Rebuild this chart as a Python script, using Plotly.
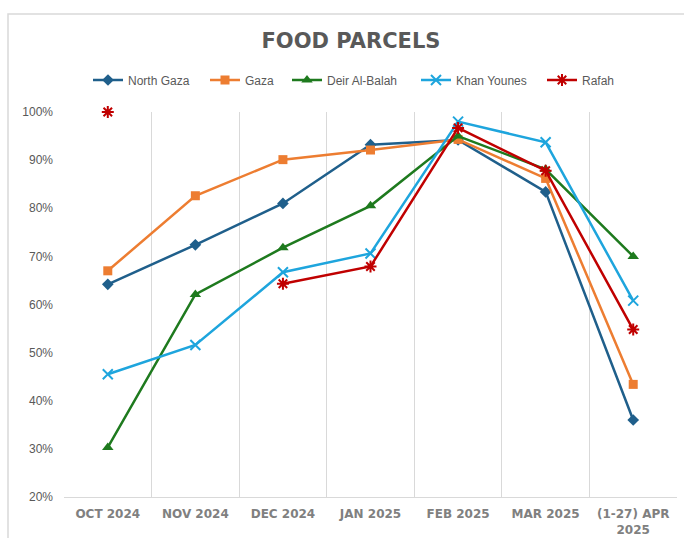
import plotly.graph_objects as go

categories = ["OCT 2024", "NOV 2024", "DEC 2024", "JAN 2025", "FEB 2025", "MAR 2025", "(1-27) APR<br>2025"]
north_gaza = [64.2, 72.4, 81.0, 93.2, 94.2, 83.4, 36.0]
gaza = [67.0, 82.6, 90.1, 92.1, 94.3, 86.2, 43.4]
deir_al_balah = [30.3, 62.1, 71.8, 80.5, 95.0, 88.1, 70.0]
khan_younes = [45.5, 51.6, 66.7, 70.6, 98.0, 93.7, 60.8]
rafah = [100.0, None, 64.3, 67.9, 96.7, 87.8, 54.8]
y_ticks = [20, 30, 40, 50, 60, 70, 80, 90, 100]

series = [
    ("North Gaza", north_gaza, "#1F5F8B", dict(symbol="diamond", size=9)),
    ("Gaza", gaza, "#ED7D31", dict(symbol="square", size=9)),
    ("Deir Al-Balah", deir_al_balah, "#1E7A1E", dict(symbol="triangle-up", size=10)),
    ("Khan Younes", khan_younes, "#1EA5DD", dict(symbol="x-thin-open", size=10, line=dict(width=2, color="#1EA5DD"))),
    ("Rafah", rafah, "#C00000", dict(symbol="asterisk-open", size=10, line=dict(width=2, color="#C00000"))),
]

# legend entry left edges (pixels) for each series
legend_px = [93, 210, 292, 421, 547]
L, R, T, B, W, H = 64, 7, 112, 41, 684, 538
pw, ph = W - L - R, H - T - B

fig = go.Figure()
layout_legends = {}
for i, (name, vals, color, marker) in enumerate(series):
    m = dict(color=color, **marker)
    lname = "legend" if i == 0 else f"legend{i+1}"
    fig.add_trace(go.Scatter(
        x=categories, y=vals, name=name, mode="lines+markers",
        line=dict(color=color, width=2.5), marker=m,
        connectgaps=False, cliponaxis=False, legend=lname,
    ))
    layout_legends[lname] = dict(
        orientation="h", x=(legend_px[i] - 5 - L) / pw, xanchor="left",
        y=1 + (T - 80) / ph, yanchor="middle",
        font=dict(family="Liberation Sans", size=12, color="#595959"),
        itemwidth=30, bgcolor="rgba(0,0,0,0)", borderwidth=0,
    )

fig.update_layout(
    width=W, height=H,
    margin=dict(l=L, r=R, t=T, b=B, autoexpand=False),
    paper_bgcolor="white", plot_bgcolor="white",
    title=dict(text="<b>FOOD PARCELS</b>", xref="container", x=351 / W, xanchor="center",
               yref="container", y=1 - 41 / H, yanchor="middle",
               font=dict(family="DejaVu Sans", size=21, color="#595959")),
    showlegend=True,
    shapes=[dict(type="rect", xref="paper", yref="paper", x0=(8 - L) / pw, x1=1.05,
                 y0=-0.2, y1=1 + (T - 14) / ph,
                 line=dict(color="#D9D9D9", width=1.5), fillcolor="rgba(0,0,0,0)", layer="below")],
    **layout_legends,
)
fig.update_xaxes(
    type="category", tickson="boundaries", showgrid=True, gridcolor="#D9D9D9", gridwidth=1,
    showline=True, linecolor="#D9D9D9", linewidth=1, ticks="", range=[-0.5, 6.5], automargin=False,
    tickfont=dict(family="DejaVu Sans", size=12, color="#808080", weight="bold"), ticklabelstandoff=6,
)
fig.update_yaxes(
    range=[20, 100], tickvals=y_ticks, ticktext=[f"{v}%" for v in y_ticks], automargin=False,
    showgrid=False, zeroline=False, showline=False,
    tickfont=dict(family="Liberation Sans", size=12, color="#595959"), ticklabelstandoff=10,
)

fig.write_html("out.html")
